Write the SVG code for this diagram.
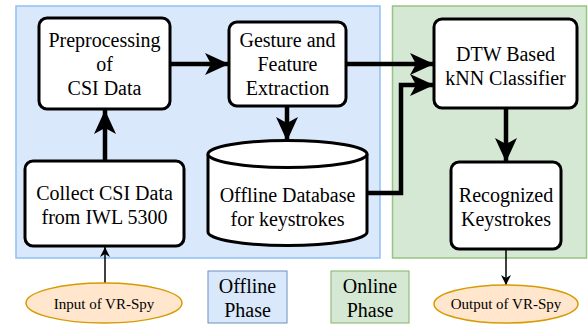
<svg xmlns="http://www.w3.org/2000/svg" width="588" height="325" viewBox="0 0 588 325">
<defs>
<style>
.t{font-family:'Liberation Serif','Times New Roman','DejaVu Serif',serif;font-size:20px;fill:#000;text-anchor:middle}
.s{font-family:'Liberation Serif','Times New Roman','DejaVu Serif',serif;font-size:15px;fill:#000;text-anchor:middle}
.box{fill:#fff;stroke:#000;stroke-width:3}
.thick{fill:none;stroke:#000;stroke-width:4.5}
.thin{fill:none;stroke:#000;stroke-width:1.5}
.ell{fill:#ffe6cc;stroke:#d79b00;stroke-width:1.5}
</style>
<marker id="big" markerUnits="userSpaceOnUse" markerWidth="26" markerHeight="24" refX="24" refY="11" orient="auto" viewBox="0 0 26 24">
<path d="M0,0 L24,11 L0,22 L6,11 z" fill="#000"/>
</marker>
<marker id="small" markerUnits="userSpaceOnUse" markerWidth="12" markerHeight="12" refX="10" refY="5" orient="auto" viewBox="0 0 12 12">
<path d="M0,0 L10,5 L0,10 L3,5 z" fill="#000"/>
</marker>
</defs>
<rect width="588" height="325" fill="#fff"/>
<g id="offline-region"><rect x="16" y="6" width="364" height="252" fill="#dae8fc" stroke="#8fc1f5" stroke-width="1.5"/></g>
<g id="online-region"><rect x="392.5" y="6" width="194" height="252" fill="#d5e8d4" stroke="#97c482" stroke-width="1.5"/></g>

<g id="connectors">
<line class="thick" x1="105" y1="161" x2="105" y2="110" marker-end="url(#big)"/>
<line class="thick" x1="170" y1="64" x2="229" y2="64" marker-end="url(#big)"/>
<line class="thick" x1="346" y1="64" x2="434" y2="64" marker-end="url(#big)"/>
<line class="thick" x1="287" y1="106" x2="287" y2="141" marker-end="url(#big)"/>
<polyline class="thick" points="367,193 401,193 401,85 434,85" marker-end="url(#big)"/>
<line class="thick" x1="506" y1="108" x2="506" y2="162" marker-end="url(#big)"/>
<line class="thin" x1="105" y1="283" x2="105" y2="247" marker-end="url(#small)"/>
<line class="thin" x1="506" y1="249" x2="506" y2="285" marker-end="url(#small)"/>
</g>

<g id="preprocessing">
<rect class="box" x="39" y="18" width="131" height="91" rx="8"/>
<text class="t" x="104.5" y="47">Preprocessing</text>
<text class="t" x="104.5" y="71">of</text>
<text class="t" x="104.5" y="95">CSI Data</text>
</g>
<g id="gesture">
<rect class="box" x="229" y="22" width="117" height="84" rx="8"/>
<text class="t" x="287.5" y="47">Gesture and</text>
<text class="t" x="287.5" y="71">Feature</text>
<text class="t" x="287.5" y="95">Extraction</text>
</g>
<g id="dtw">
<rect class="box" x="434" y="19" width="143" height="89" rx="8"/>
<text class="t" x="505.5" y="61">DTW Based</text>
<text class="t" x="505.5" y="85">kNN Classifier</text>
</g>
<g id="collect">
<rect class="box" x="25" y="161" width="159" height="85" rx="8"/>
<text class="t" x="104.5" y="200">Collect CSI Data</text>
<text class="t" x="104.5" y="224">from IWL 5300</text>
</g>
<g id="database">
<path class="box" d="M208,154 A79.5,13.5 0 0 1 367,154 L367,232 A79.5,13.5 0 0 1 208,232 Z"/>
<path class="box" d="M208,154 A79.5,13.5 0 0 0 367,154" fill="none"/>
<text class="t" x="287.5" y="202">Offline Database</text>
<text class="t" x="287.5" y="226">for keystrokes</text>
</g>
<g id="recognized">
<rect class="box" x="451" y="162" width="110" height="87" rx="8"/>
<text class="t" x="506" y="202">Recognized</text>
<text class="t" x="506" y="226">Keystrokes</text>
</g>
<g id="input">
<ellipse class="ell" cx="104" cy="303" rx="78" ry="20"/>
<text class="s" x="104" y="309">Input of VR-Spy</text>
</g>
<g id="output">
<ellipse class="ell" cx="506" cy="304" rx="72" ry="19"/>
<text class="s" x="506" y="309">Output of VR-Spy</text>
</g>
<g id="offline-label">
<rect x="208" y="271" width="79" height="52" fill="#dae8fc" stroke="#6c8ebf" stroke-width="1"/>
<text class="t" x="247.5" y="293">Offline</text>
<text class="t" x="247.5" y="317">Phase</text>
</g>
<g id="online-label">
<rect x="331" y="271" width="78" height="52" fill="#d5e8d4" stroke="#82b366" stroke-width="1"/>
<text class="t" x="370" y="293">Online</text>
<text class="t" x="370" y="317">Phase</text>
</g>
</svg>
